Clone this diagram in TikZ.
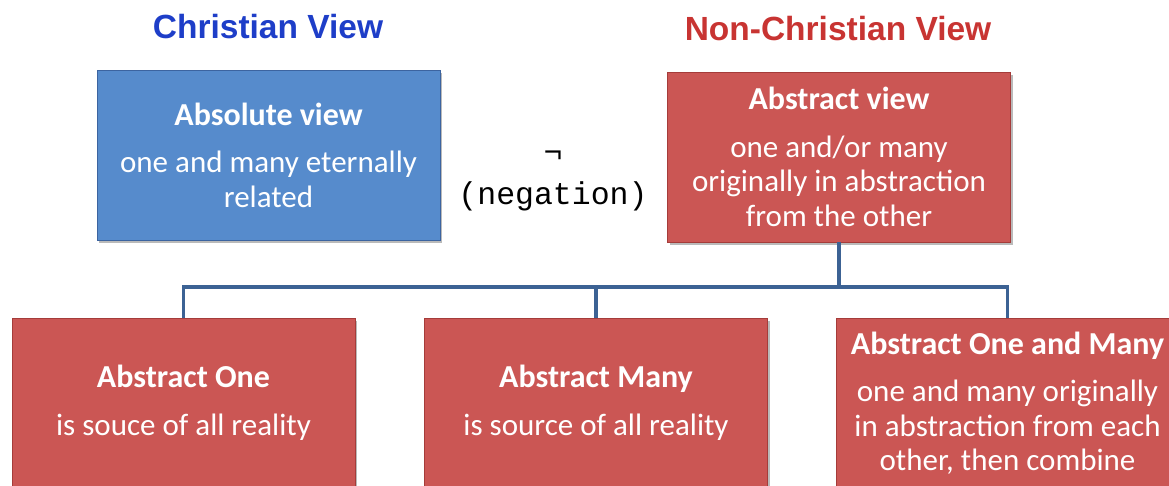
\documentclass[tikz,border=0pt]{standalone}
\usepackage{fontspec}
\setmainfont{Carlito}
\newfontfamily\titlefont{Liberation Sans}
\newfontfamily\monofont{Liberation Mono}
\usetikzlibrary{shadows}
\definecolor{boxblue}{RGB}{86,139,204}
\definecolor{boxred}{RGB}{203,86,84}
\definecolor{edgeblue}{RGB}{60,100,160}
\definecolor{edgered}{RGB}{165,60,58}
\definecolor{conncol}{RGB}{60,98,148}
\definecolor{titleblue}{RGB}{30,62,200}
\definecolor{titlered}{RGB}{200,52,50}
\tikzset{
  viewbox/.style={rectangle, minimum width=343pt, minimum height=170pt, inner sep=0pt,
    text=white, align=center, line width=0.8pt,
    drop shadow={shadow xshift=2pt, shadow yshift=-3pt, fill=black!45, opacity=0.6},
    font=\fontsize{31}{34.5}\selectfont},
  bluebox/.style={viewbox, fill=boxblue, draw=edgeblue},
  redbox/.style={viewbox, fill=boxred, draw=edgered},
  viewtitle/.style={font=\titlefont\bfseries\fontsize{33.5}{38}\selectfont},
  conn/.style={draw=conncol, line width=3.5pt},
}
\newcommand{\boxhead}[1]{{\fontsize{32}{34.5}\selectfont\bfseries #1}}
\begin{document}
\begin{tikzpicture}[x=1pt,y=-1pt]
\useasboundingbox (0,0) rectangle (1169,485);
\clip (0,0) rectangle (1169,485);
\node[viewtitle, text=titleblue] (ct) at (268,27) {Christian View};
\node[viewtitle, text=titlered] (nt) at (838,29) {Non-Christian View};

\node[bluebox] (absol) at (268.5,155) {\boxhead{Absolute view}\\[13pt]one and many eternally\\related};
\node[redbox] (abstr) at (839,157) {\boxhead{Abstract view}\\[13pt]one and/or many\\originally in abstraction\\from the other};

\node[font=\monofont\fontsize{31.5}{42}\selectfont, align=center] (neg) at (553,181) {¬\\(negation)};

\coordinate (hub) at (839,287);
\node[redbox] (one) at (183.5,403) {\boxhead{Abstract One}\\[13pt]is souce of all reality};
\node[redbox] (many) at (596,403) {\boxhead{Abstract Many}\\[13pt]is source of all reality};
\node[redbox] (both) at (1007.5,403) {\boxhead{Abstract One and Many}\\[13pt]one and many originally\\in abstraction from each\\other, then combine};

\draw[conn] (abstr.south) -- (hub);
\draw[conn] (hub) -| (one.north);
\draw[conn] (hub) -| (many.north);
\draw[conn] (hub) -| (both.north);
\end{tikzpicture}
\end{document}
